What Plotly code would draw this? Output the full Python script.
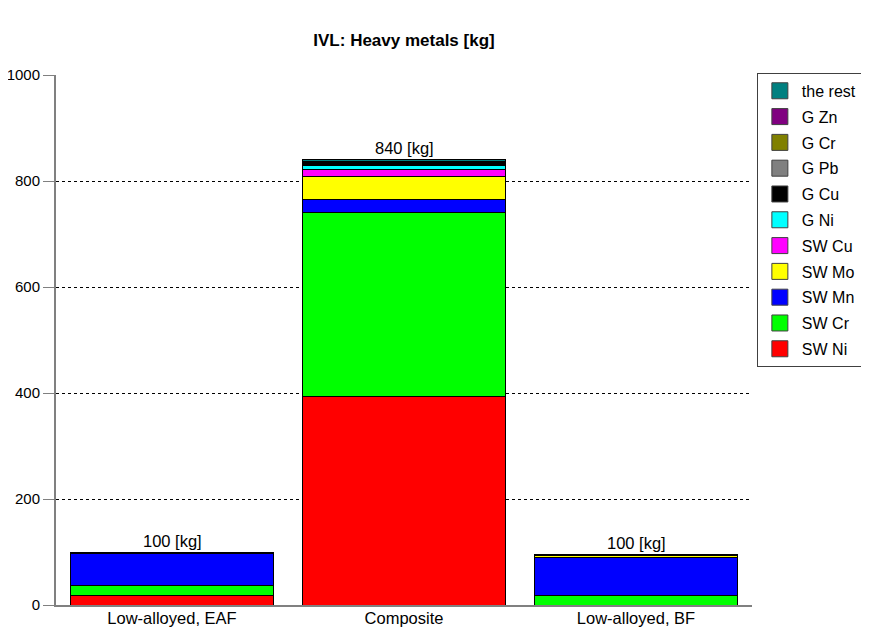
import plotly.graph_objects as go

categories = ["Low-alloyed, EAF", "Composite", "Low-alloyed, BF"]
series_names = ["SW Ni", "SW Cr", "SW Mn", "SW Mo", "SW Cu", "G Ni", "G Cu", "G Pb", "G Cr", "G Zn", "the rest"]
sw_ni = [17, 393, 0]
sw_cr = [20, 347, 17]
sw_mn = [61, 25, 72]
sw_mo = [0, 44, 5]
sw_cu = [0, 12, 0]
g_ni = [0, 9, 0]
g_cu = [0.5, 3, 0.5]
g_pb = [0, 1, 0]
g_cr = [0, 1, 0]
g_zn = [0, 1, 0]
the_rest = [0.5, 4, 0.5]
series_values = [sw_ni, sw_cr, sw_mn, sw_mo, sw_cu, g_ni, g_cu, g_pb, g_cr, g_zn, the_rest]
colors = ["#FF0000", "#00FF00", "#0000FF", "#FFFF00", "#FF00FF", "#00FFFF",
          "#000000", "#808080", "#808000", "#800080", "#008080"]
total_labels = ["100 [kg]", "840 [kg]", "100 [kg]"]
y_ticks = [0, 200, 400, 600, 800, 1000]

FONT = "Liberation Sans, Arial, sans-serif"

fig = go.Figure()
n = len(series_names)
for i, (name, vals, col) in enumerate(zip(series_names, series_values, colors)):
    fig.add_trace(go.Bar(
        x=categories, y=vals, name=name, showlegend=False,
        marker=dict(color=col, line=dict(color="black", width=1)),
        hoverinfo="skip",
    ))
# legend entries (bigger square swatches)
for i, (name, col) in enumerate(zip(series_names, colors)):
    fig.add_trace(go.Scatter(
        x=[None], y=[None], mode="markers", name=name, legendgroup=name,
        legendrank=100 + (n - i),
        marker=dict(symbol="square", size=16, color=col, line=dict(color="#404040", width=1)),
        hoverinfo="skip",
    ))

totals = [sum(v[i] for v in series_values) for i in range(len(categories))]
for cat, tot, lab in zip(categories, totals, total_labels):
    fig.add_annotation(x=cat, y=tot, text=lab, showarrow=False, yanchor="bottom",
                       yshift=1, font=dict(size=16.5, color="black", family=FONT))

fig.update_layout(
    barmode="stack",
    bargap=0.123,
    width=861, height=620,
    margin=dict(l=48, r=117, t=67, b=23, autoexpand=False),
    paper_bgcolor="white", plot_bgcolor="white",
    font=dict(family=FONT, size=16.5, color="black"),
    title=dict(text="<b>IVL: Heavy metals [kg]</b>", x=0.5, xref="paper", xanchor="center",
               y=1 - 32 / 620, yanchor="middle", font=dict(size=17, family=FONT)),
    legend=dict(
        x=1.007, y=1.004, xanchor="left", yanchor="top",
        traceorder="grouped", tracegroupgap=2,
        bordercolor="#404040", borderwidth=1, bgcolor="white",
        font=dict(size=16, family=FONT), itemwidth=34, itemsizing="trace",
    ),
    showlegend=True,
)
fig.update_yaxes(
    range=[0, 1000], tickvals=y_ticks, showgrid=True, gridcolor="black", griddash="dot",
    gridwidth=1, showline=True, linecolor="#808080", linewidth=2,
    ticks="outside", ticklen=11, tickcolor="#808080", tickwidth=1, zeroline=False,
    tickfont=dict(size=15), automargin=False,
)
fig.update_xaxes(
    showline=True, linecolor="#808080", linewidth=2, ticks="", showgrid=False,
    tickfont=dict(size=16.5), range=[-0.5, 2.5], automargin=False,
    ticklabelstandoff=-3,
)

fig.write_html("out.html")
